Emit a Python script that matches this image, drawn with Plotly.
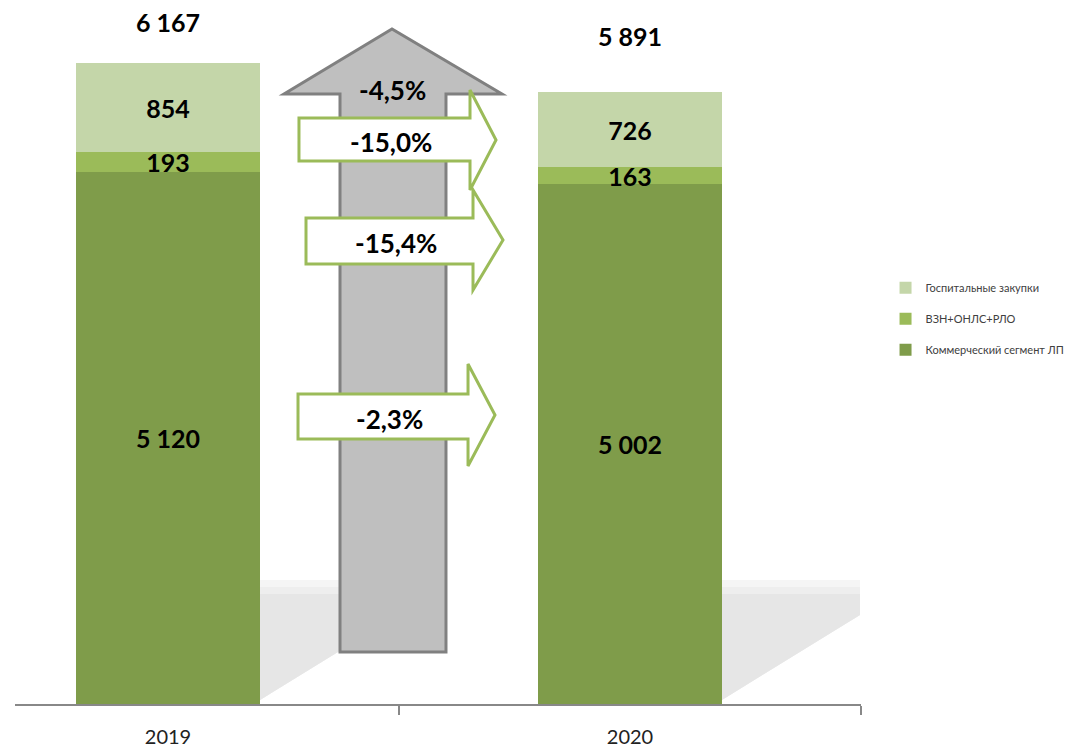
import plotly.graph_objects as go

# data
years = ['2019', '2020']
commercial = [5120, 5002]      # Коммерческий сегмент ЛП
vzn = [193, 163]               # ВЗН+ОНЛС+РЛО
hospital = [854, 726]          # Госпитальные закупки
totals = [6167, 5891]
change_total = '-4,5%'
change_labels = ['-15,0%', '-15,4%', '-2,3%']   # hospital, vzn, commercial

DARK = '#7f9c4a'
MID = '#9bbb59'
LIGHT = '#c4d6a9'

# pixel helpers for the decorative shapes (plot area is 15..861 x 0..704 px)
X0, PX_PER_X = 168, 462.0
Y_MAX = 6776.0
PX_PER_Y = 704.0 / Y_MAX


def dx(px):
    return (px - X0) / PX_PER_X


def dy(py):
    return (704 - py) / PX_PER_Y


def path(points):
    return 'M ' + ' L '.join(f'{dx(a):.4f},{dy(b):.2f}' for a, b in points) + ' Z'


def fmt(v):
    return f'{v:,}'.replace(',', ' ')


fig = go.Figure()

x = [0, 1]
for rank, (name, vals, color) in enumerate([
    ('Коммерческий сегмент ЛП', commercial, DARK),
    ('ВЗН+ОНЛС+РЛО', vzn, MID),
    ('Госпитальные закупки', hospital, LIGHT),
]):
    fig.add_trace(go.Bar(
        x=x, y=vals, name=name,
        marker=dict(color=color, line=dict(width=0)),
        width=0.4,
        text=[fmt(v) for v in vals],
        textposition='inside',
        insidetextanchor='middle',
        constraintext='none',
        textfont=dict(family='Lato', size=25, color='black', weight='bold'),
        legendgroup=name,
        legendrank=1000 - rank,
    ))

shapes = []

# floor shadows behind the bars
for i in range(2):
    r = X0 + i * PX_PER_X + 92
    for top, col in [(580, '#f5f5f5'), (587, '#eeeeee'), (594, '#e6e6e6')]:
        shapes.append(dict(
            type='path', xref='x', yref='y', layer='below',
            path=path([(r, top), (r + 138, top), (r + 138, 615), (r, 700)]),
            fillcolor=col, line=dict(width=0),
        ))

# big grey up arrow
shapes.append(dict(
    type='path', xref='x', yref='y', layer='above',
    path=path([(340, 652), (340, 94), (284, 94), (392, 29), (502, 94),
               (446, 94), (446, 652)]),
    fillcolor='#bfbfbf', line=dict(color='#808080', width=3),
))

# green right arrows: (left, body top, body bottom, head base, head top, head bottom, tip)
green_arrows = [
    (299, 118, 161, 470, 90, 190, 496),
    (306, 218, 264, 473, 190, 290, 503),
    (298, 394, 439, 468, 364, 466, 495),
]
for l, bt, bb, hb, ht, hbot, tip in green_arrows:
    mid = (ht + hbot) / 2
    shapes.append(dict(
        type='path', xref='x', yref='y', layer='above',
        path=path([(l, bt), (hb, bt), (hb, ht), (tip, mid), (hb, hbot),
                   (hb, bb), (l, bb)]),
        fillcolor='white', line=dict(color=MID, width=3),
    ))

annotations = []
lab_font = dict(family='Lato', size=26, color='black', weight='bold')
annotations.append(dict(x=dx(392), y=dy(90), xref='x', yref='y', text=change_total,
                        showarrow=False, font=lab_font))
for (l, bt, bb, hb, ht, hbot, tip), lab in zip(green_arrows, change_labels):
    annotations.append(dict(x=dx((l + hb) / 2 + 6), y=dy((bt + bb) / 2 + 2), xref='x', yref='y',
                            text=lab, showarrow=False, font=lab_font))

# totals above bars
for i, (t, shift) in enumerate(zip(totals, [41, 56])):
    annotations.append(dict(x=i, y=t, xref='x', yref='y', text=fmt(t), showarrow=False,
                            yshift=shift, font=dict(family='Lato', size=25, color='black',
                                                    weight='bold')))

fig.update_layout(
    barmode='stack',
    width=1076, height=747,
    margin=dict(l=15, r=215, t=0, b=43, autoexpand=False),
    plot_bgcolor='white', paper_bgcolor='white',
    shapes=shapes, annotations=annotations,
    showlegend=True,
    legend=dict(
        x=1.029, y=0.612, xanchor='left', yanchor='top',
        traceorder='grouped', tracegroupgap=12,
        font=dict(family='Lato', size=11, color='#404040'),
        bgcolor='rgba(0,0,0,0)',
    ),
    xaxis=dict(
        range=[dx(15), 1.5],
        tickvals=[0, 1], ticktext=years,
        ticks='', showgrid=False, zeroline=False,
        showline=True, linecolor='#888888', linewidth=1.5,
        tickfont=dict(family='Lato', size=20, color='#222222'),
        ticklabelstandoff=14,
        minor=dict(tick0=0.5, dtick=1, ticks='outside', ticklen=9,
                   tickcolor='#888888', tickwidth=1.5, showgrid=False),
    ),
    yaxis=dict(range=[0, Y_MAX], visible=False, showgrid=False, zeroline=False),
)

fig.write_html('out.html', config={'displayModeBar': False},
               post_script="document.body.style.margin='0';")
